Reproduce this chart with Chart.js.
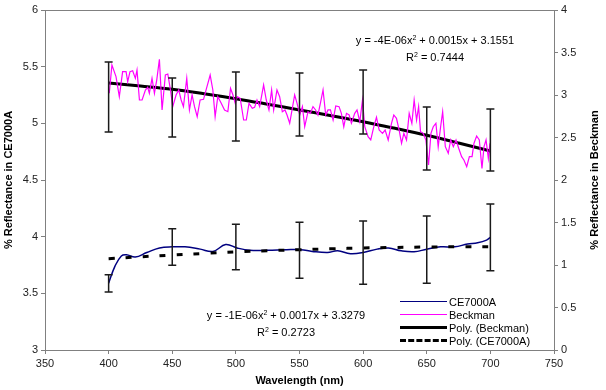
<!DOCTYPE html>
<html>
<head>
<meta charset="utf-8">
<script src="https://cdn.jsdelivr.net/npm/chart.js@4"></script>
<style>
  body { margin: 0; background: #fff; }
  #wrap { position: relative; width: 606px; height: 390px; font-family: "Liberation Sans", Arial, sans-serif; }
  .eq { position: absolute; width: 240px; text-align: center; font-size: 11px; line-height: 17px; color: #000; }
  .eq sup { font-size: 7px; line-height: 0; vertical-align: 4px; }
  #legend { position: absolute; left: 400px; top: 295px; font-size: 11px; color: #000; }
  .row { height: 13px; display: flex; align-items: center; }
  .swatch { width: 47px; height: 0; margin-right: 2px; }
  #right_title { position: absolute; left: 494px; top: 173px; width: 200px; text-align: center; font-size: 11px; font-weight: bold; line-height: 14px; transform: rotate(-90deg); }
</style>
</head>
<body>
<div id="wrap">
  <canvas id="chart" width="606" height="390"></canvas>
  <div class="eq" style="left:315px; top:32px">y = -4E-06x<sup>2</sup> + 0.0015x + 3.1551<br>R<sup>2</sup> = 0.7444</div>
  <div class="eq" style="left:166px; top:307px">y = -1E-06x<sup>2</sup> + 0.0017x + 3.3279<br>R<sup>2</sup> = 0.2723</div>
  <div id="right_title">% Reflectance in Beckman</div>
  <div id="legend">
    <div class="row"><div class="swatch" style="border-top:1.5px solid #000080"></div>CE7000A</div>
    <div class="row"><div class="swatch" style="border-top:1.5px solid #ff00ff"></div>Beckman</div>
    <div class="row"><div class="swatch" style="border-top:3px solid #000"></div>Poly. (Beckman)</div>
    <div class="row"><div class="swatch" style="border-top:3px dashed #000"></div>Poly. (CE7000A)</div>
  </div>
</div>
<script>
// CE7000A spectrum (left axis)
const ce_nm = [400, 405, 410, 414, 421, 430, 440, 450, 460, 472, 482, 492, 501, 511, 525, 540, 551, 560, 572, 580, 590, 600, 611, 620, 630, 640, 650, 661, 672, 682, 690, 697, 700]
const ce_values = [3.59, 3.74, 3.83, 3.84, 3.82, 3.86, 3.90, 3.91, 3.91, 3.89, 3.87, 3.93, 3.90, 3.88, 3.88, 3.885, 3.885, 3.87, 3.86, 3.875, 3.85, 3.86, 3.89, 3.90, 3.875, 3.867, 3.889, 3.91, 3.91, 3.935, 3.946, 3.97, 3.995]

// Beckman spectrum (right axis)
const bk_nm = [400.5, 402.6, 405.8, 408.4, 411.0, 413.7, 415.0, 416.8, 418.9, 421.0, 422.3, 424.2, 426.3, 428.9, 430.7, 432.0, 434.1, 436.0, 437.8, 439.9,
  442.0, 444.6, 446.5, 448.6, 450.4, 453.0, 455.1, 457.0, 458.8, 461.4, 463.5, 465.6, 467.5, 469.6, 471.9, 474.6, 476.7, 479.8, 481.9, 483.7,
  485.8, 488.5, 491.1, 493.7, 495.8, 497.7, 499.5, 501.1, 503.4, 506.1, 508.2, 510.3, 512.9, 514.7, 516.6, 518.7, 521.8, 523.9, 526.0, 528.1,
  529.7, 532.3, 534.4, 536.5, 538.6, 540.2, 542.3, 543.9, 546.2, 548.1, 550.2, 552.3, 554.1, 556.7, 558.5, 560.6, 562.7, 564.5, 566.4, 568.5,
  570.6, 572.4, 574.3, 576.4, 578.5, 581.1, 582.9, 584.8, 586.9, 589.0, 590.8, 593.4, 595.2, 597.4, 599.5, 601.3, 603.9, 606.0, 608.4, 610.5,
  612.6, 615.2, 617.3, 619.7, 622.3, 624.1, 626.2, 628.3, 630.2, 632.0, 634.1, 636.2, 638.3, 640.1, 642.0, 643.6, 645.1, 647.2, 649.3, 651.4,
  653.3, 655.1, 657.2, 659.0, 660.9, 662.5, 664.6, 666.9, 668.8, 670.9, 673.0, 675.1, 677.4, 679.2, 681.4, 683.5, 685.6, 687.1, 689.2, 691.3,
  693.4, 695.0, 696.6, 698.4, 699.7]
const bk_values = [3.020, 3.353, 3.216, 2.980, 3.274, 3.274, 3.157, 3.274, 3.286, 3.196, 3.294, 2.941, 2.941, 3.059, 3.090, 3.020, 3.196, 3.020, 3.176, 3.420,
  2.824, 3.235, 3.247, 3.059, 2.863, 3.000, 3.059, 2.941, 2.863, 3.196, 2.824, 3.000, 2.863, 2.745, 2.941, 2.949, 3.067, 3.235, 3.059, 2.745,
  2.980, 2.902, 2.824, 2.804, 3.078, 3.000, 2.902, 2.980, 2.961, 2.706, 2.706, 2.902, 2.843, 2.855, 2.941, 2.863, 3.118, 2.941, 2.824, 3.059,
  2.824, 3.059, 2.980, 2.804, 2.824, 2.765, 2.667, 2.804, 3.000, 2.902, 2.765, 2.863, 2.627, 2.804, 2.784, 2.863, 2.824, 2.765, 2.902, 3.059,
  2.765, 2.824, 2.824, 2.706, 2.871, 2.863, 2.784, 2.627, 2.784, 2.765, 2.667, 2.784, 2.824, 2.686, 2.941, 2.627, 2.510, 2.471, 2.627, 2.737,
  2.588, 2.549, 2.588, 2.471, 2.667, 2.765, 2.725, 2.588, 2.431, 2.549, 2.471, 2.784, 2.667, 2.941, 2.706, 2.863, 2.569, 2.549, 2.471, 2.176,
  2.549, 2.627, 2.667, 2.392, 2.627, 2.804, 2.392, 2.314, 2.471, 2.392, 2.471, 2.373, 2.275, 2.235, 2.157, 2.275, 2.275, 2.431, 2.518, 2.471,
  2.137, 2.392, 2.471, 2.255, 2.431]

// trendlines
const trend_nm = [400, 425, 450, 475, 500, 525, 550, 575, 600, 625, 650, 675, 700]
const bk_trend = [3.14, 3.105, 3.067, 3.015, 2.957, 2.892, 2.824, 2.757, 2.686, 2.608, 2.526, 2.436, 2.341]
const ce_trend = [3.806, 3.822, 3.838, 3.852, 3.866, 3.876, 3.885, 3.893, 3.900, 3.905, 3.909, 3.911, 3.912]

// error bars
const err_nm = [400, 450, 500, 550, 600, 650, 700]
const ce_err_low = [3.512, 3.747, 3.709, 3.632, 3.580, 3.588, 3.700]
const ce_err_high = [3.664, 4.070, 4.109, 4.127, 4.138, 4.182, 4.288]
const bk_err_low = [2.565, 2.506, 2.459, 2.518, 2.541, 2.118, 2.106]
const bk_err_high = [3.388, 3.200, 3.270, 3.259, 3.294, 2.859, 2.835]

const x_ticks = [350, 400, 450, 500, 550, 600, 650, 700, 750]

function to_points(xs, ys)
{
  return xs.map((x, i) => ({ x: x, y: ys[i] }))
}

const error_bar_plugin =
{
  id: "error_bars",
  afterDatasetsDraw(chart)
  {
    const ctx = chart.ctx
    const x_scale = chart.scales.x
    const sets =
    [
      { scale: chart.scales.y, low: ce_err_low, high: ce_err_high },
      { scale: chart.scales.y2, low: bk_err_low, high: bk_err_high }
    ]
    ctx.save()
    ctx.strokeStyle = "#1a1a1a"
    ctx.lineWidth = 1.5
    for (const set of sets)
    {
      err_nm.forEach((nm, i) =>
      {
        const px = x_scale.getPixelForValue(nm)
        const top = set.scale.getPixelForValue(set.high[i])
        const bottom = set.scale.getPixelForValue(set.low[i])
        ctx.beginPath()
        ctx.moveTo(px, top)
        ctx.lineTo(px, bottom)
        ctx.moveTo(px - 4, top)
        ctx.lineTo(px + 4, top)
        ctx.moveTo(px - 4, bottom)
        ctx.lineTo(px + 4, bottom)
        ctx.stroke()
      })
    }
    ctx.restore()
  }
}

const frame_plugin =
{
  id: "frame",
  afterDraw(chart)
  {
    const area = chart.chartArea
    const ctx = chart.ctx
    ctx.save()
    ctx.strokeStyle = "#808080"
    ctx.lineWidth = 1
    ctx.strokeRect(Math.round(area.left) + 0.5, Math.round(area.top) + 0.5, Math.round(area.right - area.left), Math.round(area.bottom - area.top))
    ctx.restore()
  }
}

const tick_font = { family: "'Liberation Sans', Arial, sans-serif", size: 11 }
const title_font = { family: "'Liberation Sans', Arial, sans-serif", size: 11, weight: "bold" }
const plain_label = (value) => String(value)

new Chart(document.getElementById("chart").getContext("2d"),
{
  type: "scatter",
  data:
  {
    datasets:
    [
      {
        label: "Poly. (CE7000A)",
        data: to_points(trend_nm, ce_trend),
        yAxisID: "y",
        showLine: true,
        borderColor: "#000",
        borderWidth: 3,
        borderDash: [6, 11],
        tension: 0.4,
        pointRadius: 0
      },
      {
        label: "CE7000A",
        data: to_points(ce_nm, ce_values),
        yAxisID: "y",
        showLine: true,
        borderColor: "#000080",
        borderWidth: 1.5,
        tension: 0.4,
        pointRadius: 0
      },
      {
        label: "Beckman",
        data: to_points(bk_nm, bk_values),
        yAxisID: "y2",
        showLine: true,
        borderColor: "#ff00ff",
        borderWidth: 1.2,
        tension: 0,
        pointRadius: 0
      },
      {
        label: "Poly. (Beckman)",
        data: to_points(trend_nm, bk_trend),
        yAxisID: "y2",
        showLine: true,
        borderColor: "#000",
        borderWidth: 3,
        tension: 0.4,
        pointRadius: 0
      }
    ]
  },
  options:
  {
    responsive: false,
    animation: false,
    layout: { padding: { top: 10, left: 0, right: 0, bottom: 0 } },
    plugins:
    {
      legend: { display: false },
      tooltip: { enabled: false }
    },
    scales:
    {
      x:
      {
        type: "linear",
        min: 350,
        max: 750,
        afterBuildTicks: (scale) => { scale.ticks = x_ticks.map(v => ({ value: v })) },
        afterFit: (scale) => { scale.height = 40 },
        grid: { drawOnChartArea: false, color: "#808080", tickLength: 4 },
        border: { color: "#808080" },
        ticks: { color: "#222", font: tick_font, padding: 3, maxRotation: 0, callback: plain_label },
        title: { display: true, text: "Wavelength (nm)", color: "#000", font: title_font, padding: { top: 0, bottom: 2 } }
      },
      y:
      {
        position: "left",
        min: 3,
        max: 6,
        ticks: { stepSize: 0.5, color: "#222", font: tick_font, padding: 3, callback: plain_label },
        afterFit: (scale) => { scale.width = 45 },
        grid: { drawOnChartArea: false, color: "#808080", tickLength: 4 },
        border: { color: "#808080" },
        title: { display: true, text: "% Reflectance in CE7000A", color: "#000", font: title_font, padding: { top: 2, bottom: 0 } }
      },
      y2:
      {
        position: "right",
        min: 0,
        max: 4,
        ticks: { stepSize: 0.5, color: "#222", font: tick_font, padding: 3, callback: plain_label },
        afterFit: (scale) => { scale.width = 52 },
        grid: { drawOnChartArea: false, color: "#808080", tickLength: 4 },
        border: { color: "#808080" }
      }
    }
  },
  plugins: [error_bar_plugin, frame_plugin]
})
</script>
</body>
</html>
